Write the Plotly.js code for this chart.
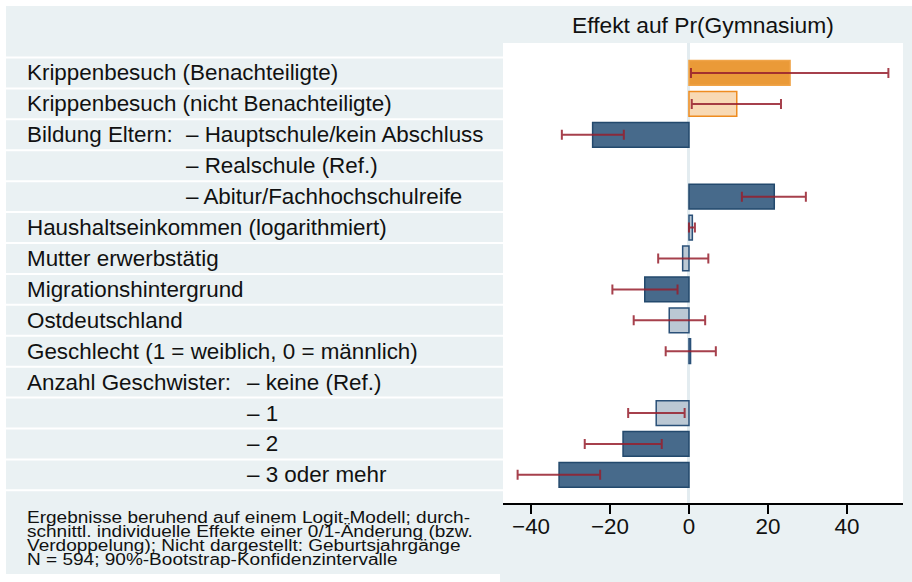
<!DOCTYPE html>
<html>
<head>
<meta charset="utf-8">
<script src="https://cdn.plot.ly/plotly-3.0.1.min.js"></script>
<style>
html, body { margin: 0; padding: 0; background: #ffffff; }
#chart { width: 912px; height: 582px; }
</style>
</head>
<body>
<div id="chart"></div>
<script>
// ---------------- data ----------------
const mainLabels = [
  "Krippenbesuch (Benachteiligte)",
  "Krippenbesuch (nicht Benachteiligte)",
  "Bildung Eltern:",
  "",
  "",
  "Haushaltseinkommen (logarithmiert)",
  "Mutter erwerbstätig",
  "Migrationshintergrund",
  "Ostdeutschland",
  "Geschlecht (1 = weiblich, 0 = männlich)",
  "Anzahl Geschwister:",
  "",
  "",
  ""
];
const subLabels = [
  "", "",
  "– Hauptschule/kein Abschluss",
  "– Realschule (Ref.)",
  "– Abitur/Fachhochschulreife",
  "", "", "", "", "",
  "– keine (Ref.)",
  "– 1",
  "– 2",
  "– 3 oder mehr"
];
const effect = [25.6, 12.1, -24.4, null, 21.6, 0.85, -1.6, -11.2, -5.0, 0.4, null, -8.3, -16.7, -32.9];
const ciLow  = [0.5, 0.7, -32.2, null, 13.4, 0.0, -7.8, -19.4, -14.0, -5.9, null, -15.4, -26.4, -43.4];
const ciHigh = [50.5, 23.3, -16.5, null, 29.6, 1.5, 4.9, -2.9, 4.1, 6.8, null, -1.1, -6.9, -22.5];
const barKind = ["orangeDark", "orangeLight", "dark", null, "dark", "light", "light", "dark", "light", "light", null, "light", "dark", "dark"];
const xTicks = [-40, -20, 0, 20, 40];
const titleText = "Effekt auf Pr(Gymnasium)";
const noteLines = [
  "Ergebnisse beruhend auf einem Logit-Modell; durch-",
  "schnittl. individuelle Effekte einer 0/1-Änderung (bzw.",
  "Verdoppelung); Nicht dargestellt: Geburtsjahrgänge",
  "N = 594; 90%-Bootstrap-Konfidenzintervalle"
];

// ---------------- styles ----------------
const FONT = "Liberation Sans, Arial, Helvetica, sans-serif";
const LIGHTBG = "#EAF1F3";
const fills = { orangeDark: "#EA9A38", orangeLight: "#F8D9B4", dark: "#476A8B", light: "#BBC8D4" };
const borders = { orangeDark: "#F0A448", orangeLight: "#EE8C20", dark: "#23496D", light: "#2A5078" };

const W = 912, H = 582;
const M = { l: 503, r: 9, t: 43, b: 79 };
const PW = W - M.l - M.r, PH = H - M.t - M.b;
const px = x => (x - M.l) / PW;
const py = y => (H - M.b - y) / PH;

const idx = effect.map((_, i) => i);

const trace = {
  type: "bar",
  orientation: "h",
  x: effect,
  y: idx,
  width: 0.8,
  marker: {
    color: barKind.map(k => k ? fills[k] : "rgba(0,0,0,0)"),
    line: { color: barKind.map(k => k ? borders[k] : "rgba(0,0,0,0)"), width: 1.5 }
  },
  error_x: {
    type: "data",
    symmetric: false,
    array: effect.map((v, i) => v === null ? null : ciHigh[i] - v),
    arrayminus: effect.map((v, i) => v === null ? null : v - ciLow[i]),
    color: "rgba(150,30,45,0.85)",
    thickness: 2,
    width: 5
  },
  hoverinfo: "skip",
  showlegend: false
};

const shapes = [];
// white outer border strips
shapes.push({ type: "rect", xref: "paper", yref: "paper", x0: px(0), x1: px(W), y0: py(6), y1: py(0), fillcolor: "#ffffff", line: { width: 0 }, layer: "below" });
shapes.push({ type: "rect", xref: "paper", yref: "paper", x0: px(0), x1: px(6), y0: py(H), y1: py(0), fillcolor: "#ffffff", line: { width: 0 }, layer: "below" });
shapes.push({ type: "rect", xref: "paper", yref: "paper", x0: px(0), x1: px(500), y0: py(H), y1: py(574), fillcolor: "#ffffff", line: { width: 0 }, layer: "below" });
// row separators in the label panel
for (let i = 0; i <= effect.length; i++) {
  shapes.push({ type: "line", xref: "paper", yref: "y", x0: px(6), x1: 0, y0: i - 0.5, y1: i - 0.5, line: { color: "#ffffff", width: 2 }, layer: "below" });
}

const annotations = [];
const labelFont = { family: FONT, size: 22.4, color: "#111111" };
mainLabels.forEach((t, i) => {
  if (t) annotations.push({ xref: "paper", yref: "y", x: px(25), y: i, text: t, showarrow: false, xanchor: "left", yanchor: "middle", font: labelFont });
});
subLabels.forEach((t, i) => {
  if (t) {
    const xPos = i >= 10 ? 245 : 184;
    annotations.push({ xref: "paper", yref: "y", x: px(xPos), y: i, text: t, showarrow: false, xanchor: "left", yanchor: "middle", font: labelFont });
  }
});
annotations.push({ xref: "paper", yref: "paper", x: px(703), y: py(25), text: titleText, showarrow: false, xanchor: "center", yanchor: "middle", font: { family: FONT, size: 22.8, color: "#111111" } });
const noteY = [517, 531, 545, 559];
noteLines.forEach((t, i) => {
  annotations.push({ xref: "paper", yref: "paper", x: px(25), y: py(noteY[i]), text: t, showarrow: false, xanchor: "left", yanchor: "middle", font: { family: FONT, size: 16, color: "#111111" } });
});

const layout = {
  width: W, height: H,
  margin: M,
  paper_bgcolor: LIGHTBG,
  plot_bgcolor: "#ffffff",
  bargap: 0.2,
  xaxis: {
    range: [-47.1, 54.2],
    tickvals: xTicks,
    ticktext: xTicks.map(v => v < 0 ? "\u2212" + Math.abs(v) : String(v)),
    ticks: "outside", ticklen: 9, tickwidth: 1.5, tickcolor: "#000000",
    ticklabelstandoff: -6,
    showline: true, linecolor: "#000000", linewidth: 1.5,
    showgrid: false,
    zeroline: true, zerolinecolor: "#E3ECF0", zerolinewidth: 3,
    tickfont: { family: FONT, size: 22.4, color: "#111111" },
    fixedrange: true
  },
  yaxis: {
    range: [13.91, -0.97],
    showticklabels: false, ticks: "", showgrid: false, zeroline: false, showline: false,
    fixedrange: true
  },
  shapes: shapes,
  annotations: annotations,
  font: { family: FONT }
};

Plotly.newPlot("chart", [trace], layout, { displayModeBar: false, staticPlot: true }).then(() => {
  // the note in the reference is set in a horizontally wide face: stretch the 4 note lines uniformly,
  // keeping their left edge where Plotly put it
  const texts = Array.from(document.querySelectorAll("text.annotation-text"));
  const noteEls = texts.filter(el => noteLines.includes(el.textContent));
  const first = noteEls.find(el => el.textContent === noteLines[0]);
  if (!first) return;
  const k = 443 / first.getComputedTextLength();
  noteEls.forEach(el => {
    const bb = el.getBBox();
    const len = el.getComputedTextLength();
    el.setAttribute("text-anchor", "start");
    el.style.textAnchor = "start";
    el.setAttribute("x", bb.x.toFixed(1));
    el.setAttribute("lengthAdjust", "spacingAndGlyphs");
    el.setAttribute("textLength", (len * k).toFixed(1));
  });
});
</script>
</body>
</html>
